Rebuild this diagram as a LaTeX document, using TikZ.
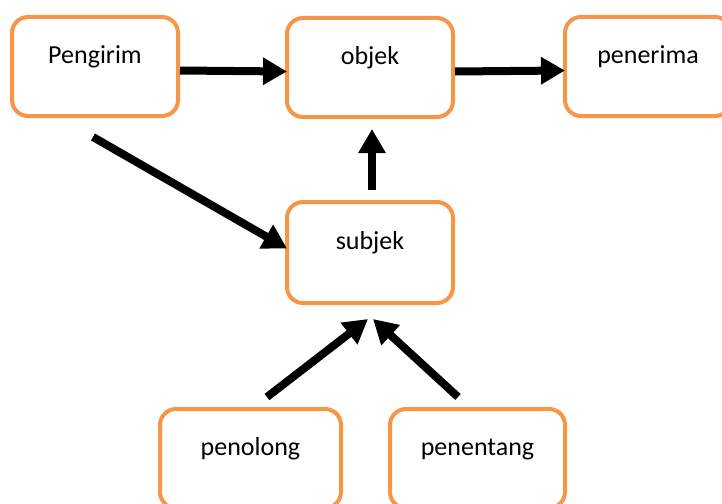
\documentclass[tikz,border=0pt]{standalone}
\usepackage{fontspec}
\setmainfont{Carlito}
\usetikzlibrary{arrows.meta}
\definecolor{boxorange}{HTML}{F79646}
\tikzset{
  box/.style={draw=boxorange, line width=4pt, rounded corners=16pt, fill=white,
    minimum height=99pt, inner sep=0pt, text height=10pt, text depth=16pt,
    font=\fontsize{26}{31}\selectfont},
  arr/.style={line width=8pt, -{Triangle[length=24pt,width=26pt]}}
}
\begin{document}
\begin{tikzpicture}[x=1pt,y=-1pt]
\useasboundingbox (0,0) rectangle (722,503);
\clip (0,0) rectangle (722,503);
\node[box, minimum width=166pt] (pengirim) at (95,66.5) {Pengirim};
\node[box, minimum width=166pt] (objek) at (370,67.5) {objek};
\node[box, minimum width=166pt] (penerima) at (648,66.5) {penerima};
\node[box, minimum width=166pt, minimum height=101pt] (subjek) at (370,252.5) {subjek};
\node[box, minimum width=181pt] (penolong) at (250.5,458.5) {penolong};
\node[box, minimum width=175pt] (penentang) at (477.5,458.5) {penentang};
\coordinate (start) at (93,137);
\coordinate (tipA) at (368,319);
\coordinate (tipB) at (373,319);
\coordinate (fromA) at (267,397);
\coordinate (fromB) at (458,397);
\draw[arr] ([yshift=-4pt]pengirim.east) -- ([xshift=2pt,yshift=-4pt]objek.west);
\draw[arr] ([yshift=-4pt]objek.east) -- ([xshift=2pt,yshift=-4pt]penerima.west);
\draw[arr] ([xshift=2pt,yshift=10pt]subjek.north) -- ([xshift=2pt,yshift=-10pt]objek.south);
\draw[arr] (start) -- ([xshift=2pt,yshift=4pt]subjek.west);
\draw[arr] (fromA) -- (tipA);
\draw[arr] (fromB) -- (tipB);
\end{tikzpicture}
\end{document}
